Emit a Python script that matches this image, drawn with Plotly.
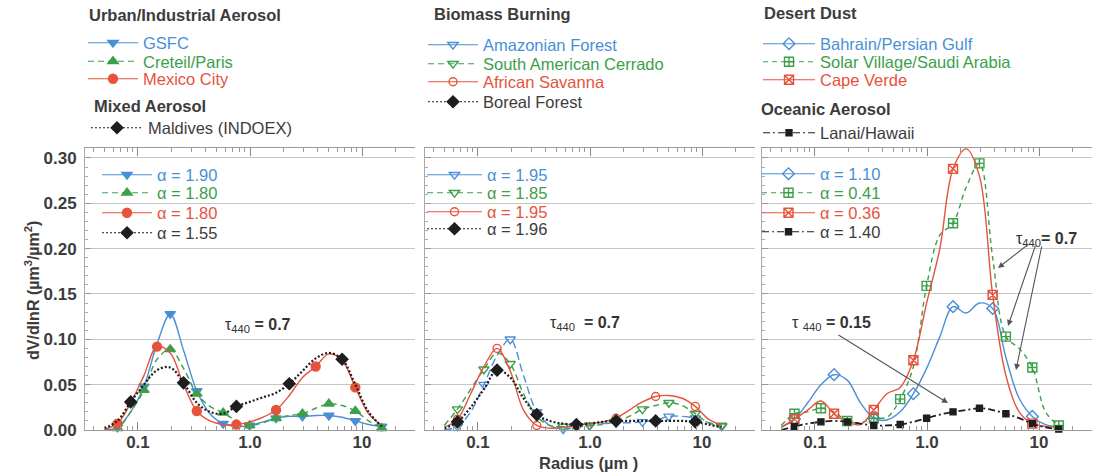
import plotly.graph_objects as go

W, H = 1093, 475
FONT = "Liberation Sans, Arial, Helvetica, sans-serif"

# ---------------- data ----------------
radius = [0.050, 0.0656, 0.0861, 0.113, 0.148, 0.194, 0.255, 0.335, 0.439, 0.576,
          0.756, 0.992, 1.302, 1.708, 2.241, 2.940, 3.857, 5.061, 6.641, 8.713, 11.43, 15.0]

# Urban/Industrial + Mixed aerosol
gsfc = [0.000, 0.003, 0.020, 0.048, 0.095, 0.128, 0.088, 0.043, 0.018, 0.007, 0.004,
        0.005, 0.009, 0.013, 0.015, 0.015, 0.016, 0.016, 0.014, 0.010, 0.006, 0.004]
creteil = [0.000, 0.002, 0.020, 0.044, 0.078, 0.089, 0.068, 0.040, 0.026, 0.019, 0.010,
           0.005, 0.008, 0.013, 0.016, 0.018, 0.024, 0.029, 0.027, 0.021, 0.010, 0.002]
mexico_city = [0.001, 0.007, 0.030, 0.060, 0.092, 0.085, 0.050, 0.021, 0.010, 0.006, 0.006,
               0.009, 0.014, 0.022, 0.038, 0.058, 0.070, 0.084, 0.077, 0.047, 0.018, 0.005]
maldives = [0.002, 0.010, 0.031, 0.050, 0.066, 0.069, 0.052, 0.030, 0.020, 0.018, 0.026,
            0.031, 0.036, 0.041, 0.051, 0.065, 0.079, 0.085, 0.078, 0.050, 0.020, 0.004]

# Biomass burning
amazonian = [0.000, 0.004, 0.020, 0.050, 0.082, 0.100, 0.060, 0.020, 0.005, 0.001, 0.003,
             0.005, 0.007, 0.008, 0.008, 0.009, 0.011, 0.015, 0.015, 0.013, 0.008, 0.004]
cerrado = [0.005, 0.023, 0.045, 0.067, 0.085, 0.073, 0.040, 0.015, 0.005, 0.004, 0.004,
           0.005, 0.006, 0.010, 0.015, 0.023, 0.027, 0.030, 0.027, 0.018, 0.008, 0.005]
savanna = [0.003, 0.012, 0.040, 0.070, 0.090, 0.065, 0.022, 0.005, 0.002, 0.003, 0.005,
           0.007, 0.009, 0.013, 0.022, 0.031, 0.037, 0.038, 0.035, 0.026, 0.012, 0.005]
boreal = [0.002, 0.009, 0.025, 0.045, 0.066, 0.058, 0.035, 0.017, 0.010, 0.007, 0.006,
          0.007, 0.009, 0.010, 0.010, 0.010, 0.010, 0.010, 0.010, 0.009, 0.006, 0.003]

# Desert dust + Oceanic
bahrain = [0.003, 0.012, 0.030, 0.050, 0.061, 0.055, 0.030, 0.013, 0.011, 0.020, 0.040,
           0.068, 0.103, 0.136, 0.129, 0.140, 0.134, 0.080, 0.035, 0.015, 0.006, 0.004]
solar_village = [0.005, 0.018, 0.020, 0.024, 0.020, 0.010, 0.008, 0.013, 0.014, 0.034, 0.070,
                 0.159, 0.215, 0.228, 0.268, 0.294, 0.190, 0.103, 0.090, 0.069, 0.020, 0.005]
cape_verde = [0.003, 0.012, 0.022, 0.032, 0.018, 0.009, 0.006, 0.022, 0.040, 0.047, 0.077,
              0.140, 0.200, 0.288, 0.310, 0.280, 0.149, 0.060, 0.020, 0.007, 0.004, 0.003]
lanai = [0.000, 0.004, 0.007, 0.009, 0.010, 0.009, 0.007, 0.005, 0.005, 0.006, 0.009,
         0.013, 0.017, 0.020, 0.022, 0.024, 0.022, 0.018, 0.013, 0.007, 0.003, 0.001]

site_names = [
    ["GSFC", "Creteil/Paris", "Mexico City", "Maldives (INDOEX)"],
    ["Amazonian Forest", "South American Cerrado", "African Savanna", "Boreal Forest"],
    ["Bahrain/Persian Gulf", "Solar Village/Saudi Arabia", "Cape Verde", "Lanai/Hawaii"],
]
alpha_labels = [
    ["α = 1.90", "α = 1.80", "α = 1.80", "α = 1.55"],
    ["α = 1.95", "α = 1.85", "α = 1.95", "α = 1.96"],
    ["α = 1.10", "α = 0.41", "α = 0.36", "α = 1.40"],
]
group_titles = ["Urban/Industrial Aerosol", "Mixed Aerosol", "Biomass Burning",
                "Desert Dust", "Oceanic Aerosol"]
tau_labels = ["τ<sub>440</sub> <b>= 0.7</b>", "τ<sub>440</sub>  <b>= 0.7</b>",
              "τ<sub>440</sub><b>= 0.7</b>", "τ <sub>440</sub> <b>= 0.15</b>"]
y_ticks = [0.00, 0.05, 0.10, 0.15, 0.20, 0.25, 0.30]
x_ticks = [0.1, 1.0, 10.0]
x_ticktext = ["0.1", "1.0", "10"]
x_minor = [0.04, 0.05, 0.06, 0.07, 0.08, 0.09, 0.2, 0.3, 0.4, 0.5, 0.6, 0.7, 0.8, 0.9,
           2, 3, 4, 5, 6, 7, 8, 9, 20]

panel_data = [[gsfc, creteil, mexico_city, maldives],
              [amazonian, cerrado, savanna, boreal],
              [bahrain, solar_village, cape_verde, lanai]]

# ---------------- styles ----------------
BLUE, GREEN, RED, BLACK = "#4a8fd6", "#3d9e4b", "#e5533d", "#1e1e1e"
TXT = "#3c3c3c"

styles = [
    [dict(color=BLUE, dash="solid", width=1.4, symbol="triangle-down", size=9, start=1, step=2, lc=BLUE),
     dict(color=GREEN, dash="6px,4px", width=1.4, symbol="triangle-up", size=9, start=1, step=2, lc=GREEN),
     dict(color=RED, dash="solid", width=1.4, symbol="circle", size=9, start=1, step=3, lc=RED),
     dict(color=BLACK, dash="2px,2px", width=2.2, symbol="diamond", size=9, start=2, step=4, lc=TXT)],
    [dict(color=BLUE, dash="8px,4px", width=1.4, symbol="triangle-down-open", size=9, start=1, step=2, lc=BLUE, ldash="solid"),
     dict(color=GREEN, dash="6px,4px", width=1.4, symbol="triangle-down-open", size=9, start=1, step=2, lc=GREEN),
     dict(color=RED, dash="solid", width=1.4, symbol="circle-open", size=8, start=1, step=3, lc=RED),
     dict(color=BLACK, dash="2px,2px", width=2.2, symbol="diamond", size=9, start=1, step=3, lc=TXT)],
    [dict(color=BLUE, dash="solid", width=1.4, symbol="diamond-open", size=9, start=1, step=3, lc=BLUE),
     dict(color=GREEN, dash="5px,4px", width=1.4, symbol="square-cross-open", size=9, start=1, step=2, lc=GREEN),
     dict(color=RED, dash="solid", width=1.4, symbol="square-x-open", size=9, start=1, step=3, lc=RED),
     dict(color=BLACK, dash="7px,3px,2px,3px", width=1.8, symbol="square", size=6, start=1, step=2, lc=TXT)],
]

# layout geometry (pixels)
x_domains_px = [(85, 415), (425, 755), (762, 1092)]
y_top_px, y_bot_px = 148, 430
y_dom = [1 - y_bot_px / H, 1 - y_top_px / H]

# legend placements: (line start x, centre y, item width)
top_legend_pos = [
    [(88, 43, 50), (88, 61.5, 50), (88, 79, 50), (91, 128, 52)],
    [(428, 45, 50), (428, 64, 50), (428, 82, 50), (428, 102, 50)],
    [(763, 44, 52), (763, 62, 52), (763, 80, 52), (763, 133, 52)],
]
panel_legend_pos = [
    [(102, 175, 50), (102, 193, 50), (102, 213, 50), (102, 233, 50)],
    [(427, 175, 55), (427, 193, 55), (427, 212, 55), (427, 229, 55)],
    [(762, 174, 53), (762, 193, 53), (762, 213, 53), (762, 232, 53)],
]

fig = go.Figure()
legends = {}


def new_legend(x_line, y_c, iw, color, size=16.5):
    n = len(legends) + 1
    lid = "legend" if n == 1 else f"legend{n}"
    legends[lid] = dict(x=(x_line - 5) / W, y=1 - y_c / H, xanchor="left", yanchor="middle",
                        bgcolor="rgba(0,0,0,0)", borderwidth=0, itemwidth=iw,
                        tracegroupgap=0, font=dict(family=FONT, size=size, color=color))
    return lid


for p in range(3):
    ax = "x" if p == 0 else f"x{p + 1}"
    ay = "y" if p == 0 else f"y{p + 1}"
    for s in range(4):
        st = styles[p][s]
        vals = panel_data[p][s]
        # smooth curve
        fig.add_trace(go.Scatter(
            x=radius, y=vals, mode="lines", xaxis=ax, yaxis=ay, showlegend=False,
            line=dict(color=st["color"], dash=st["dash"], width=st["width"], shape="spline", smoothing=1.0),
            hoverinfo="skip"))
        # markers on a subset of bins
        idx = list(range(st["start"], len(radius), st["step"]))
        mk_line = dict(color=st["color"], width=1.4)
        fig.add_trace(go.Scatter(
            x=[radius[i] for i in idx], y=[vals[i] for i in idx], mode="markers",
            xaxis=ax, yaxis=ay, showlegend=False, cliponaxis=False,
            marker=dict(symbol=st["symbol"], size=st["size"], color=st["color"], line=mk_line),
            hoverinfo="skip"))
    # legend entries (site names above, alpha values inside the panel)
    for s in range(4):
        st = styles[p][s]
        ld = st.get("ldash", st["dash"])
        for (pos, name, col) in ((top_legend_pos[p][s], site_names[p][s], st["lc"]),
                                 (panel_legend_pos[p][s], alpha_labels[p][s], st["lc"])):
            lid = new_legend(pos[0], pos[1], pos[2], col)
            fig.add_trace(go.Scatter(
                x=[None], y=[None], mode="lines+markers", xaxis=ax, yaxis=ay,
                name=name, legend=lid, showlegend=True,
                line=dict(color=st["color"], dash=ld, width=1.2),
                marker=dict(symbol=st["symbol"], size=st["size"], color=st["color"],
                            line=dict(color=st["color"], width=1.4))))

tickfont = dict(family=FONT, size=17, color=TXT, weight="bold")
layout_axes = {}
for p in range(3):
    xs = "xaxis" if p == 0 else f"xaxis{p + 1}"
    ys = "yaxis" if p == 0 else f"yaxis{p + 1}"
    x0, x1 = x_domains_px[p]
    layout_axes[xs] = dict(
        type="log", domain=[x0 / W, x1 / W], range=[-1.473, 1.473], anchor="y" if p == 0 else f"y{p + 1}",
        tickvals=x_ticks, ticktext=x_ticktext, ticks="inside", ticklen=8, tickcolor="#888",
        showline=True, linecolor="#999", linewidth=1, mirror="ticks", showgrid=False, zeroline=False,
        tickfont=tickfont, automargin=False, ticklabelstandoff=-3,
        minor=dict(tickvals=x_minor, ticks="inside", ticklen=4, tickcolor="#999", showgrid=False))
    layout_axes[ys] = dict(
        domain=y_dom, range=[0, 0.311], anchor="x" if p == 0 else f"x{p + 1}",
        tickvals=y_ticks, tickformat=".2f", ticks="inside", ticklen=6, tickcolor="#999",
        showticklabels=(p == 0), tickfont=tickfont, ticklabelstandoff=4, automargin=False,
        showline=True, linecolor="#aaa", linewidth=1, zeroline=False,
        showgrid=True, gridcolor="#c6c6c6", gridwidth=1.3,
        minor=dict(dtick=0.01, ticks="inside", ticklen=3, tickcolor="#aaa", showgrid=False))

annotations = []
# group headers
for (txt, x, y) in zip(group_titles, [87, 92, 432, 762, 759], [15, 106, 14, 13, 109]):
    annotations.append(dict(text=f"<b>{txt}</b>", x=x / W, y=1 - y / H, xref="paper", yref="paper",
                            xanchor="left", yanchor="middle", showarrow=False,
                            font=dict(family=FONT, size=16.5, color=TXT)))
# tau labels
for (txt, x, y) in zip(tau_labels, [258, 585, 1046, 831], [325, 323, 239, 323]):
    annotations.append(dict(text=txt, x=x / W, y=1 - y / H, xref="paper", yref="paper",
                            xanchor="center", yanchor="middle", showarrow=False,
                            font=dict(family=FONT, size=16, color="#333")))
# arrows (head, tail) in pixels
for (hx, hy, tx, ty) in [(998, 268, 1030, 243), (1008, 326, 1036, 244), (1016, 370, 1042, 245),
                         (948, 403, 837, 334)]:
    annotations.append(dict(text="", x=hx / W, y=1 - hy / H, xref="paper", yref="paper",
                            ax=tx - hx, ay=ty - hy, axref="pixel", ayref="pixel",
                            showarrow=True, arrowhead=2, arrowsize=1.1, arrowwidth=1.1,
                            arrowcolor="#555"))
# axis titles
annotations.append(dict(text="<b>Radius (µm )</b>", x=588 / W, y=1 - 463 / H, xref="paper", yref="paper",
                        yanchor="middle", showarrow=False, font=dict(family=FONT, size=16.5, color=TXT)))
annotations.append(dict(text="<b>dV/dlnR (µm<sup>3</sup>/µm<sup>2</sup>)</b>", x=20 / W, y=1 - 291 / H,
                        xref="paper", yref="paper", textangle=-90, showarrow=False,
                        font=dict(family=FONT, size=16, color=TXT)))

fig.update_layout(
    width=W, height=H, margin=dict(l=0, r=0, t=0, b=0, pad=0, autoexpand=False),
    paper_bgcolor="white", plot_bgcolor="white",
    font=dict(family=FONT, color=TXT), annotations=annotations, hovermode=False,
    **layout_axes, **legends)

fig.write_html("out.html")
